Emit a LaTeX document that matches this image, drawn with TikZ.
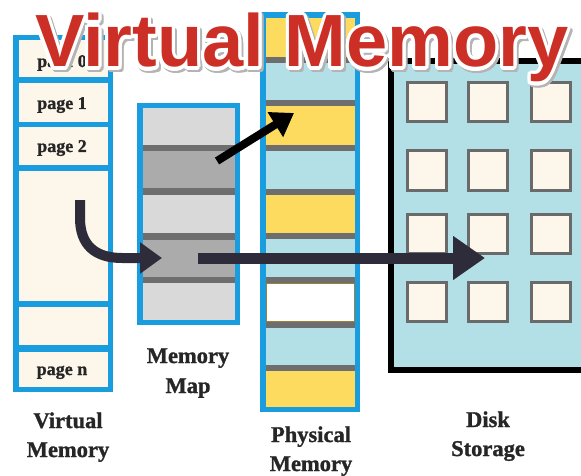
\documentclass[tikz,border=0pt]{standalone}
\usepackage{fontspec}
\usetikzlibrary{arrows.meta,calc}

\newfontfamily\titlefont{Liberation Sans}[UprightFont={* Bold}]
\newfontfamily\lblfont{Liberation Serif}[UprightFont={* Bold}, FakeBold=1.2]

\definecolor{frameblue}{HTML}{1A9DDE}
\definecolor{cellcream}{HTML}{FDF6EA}
\definecolor{skyblue}{HTML}{B3DFE6}
\definecolor{sunyellow}{HTML}{FCDB5E}
\definecolor{stripegray}{HTML}{6E6E6E}
\definecolor{palegray}{HTML}{D9D9D9}
\definecolor{midgray}{HTML}{ABABAB}
\definecolor{arrowdark}{HTML}{2E2C3A}
\definecolor{titlered}{HTML}{CC2F26}
\definecolor{squareedge}{HTML}{6A6A6A}
\definecolor{shadowgray}{HTML}{B4B4B4}

% rectangle node given by its corners: style, name, x1, y1, x2, y2
\newcommand\rectnode[6]{%
  \node[#1, minimum width={#5-#3}, minimum height={#6-#4}] (#2)
    at ({(#3+#5)/2},{(#4+#6)/2}) {};}

\tikzset{
  solid fill/.style={fill=#1, draw=none, inner sep=0, outer sep=0},
  disk square/.style={fill=cellcream, draw=squareedge, line width=3,
    inner sep=0, outer sep=0, minimum size=39},
  page label/.style={anchor=base, inner sep=0,
    font=\lblfont\fontsize{18}{18}\selectfont, text=black!85},
  caption/.style={anchor=base, inner sep=0,
    font=\lblfont\fontsize{22.5}{22.5}\selectfont, text=black!85},
  title text/.style={anchor=base west, inner sep=0,
    font=\titlefont\fontsize{74}{74}\selectfont},
  fat arrow/.style={draw=arrowdark, line width=10,
    -{Triangle[length=22, width=30]}},
  long arrow/.style={draw=arrowdark, line width=11,
    -{Triangle[length=32, width=42]}},
  map arrow/.style={draw=black, line width=8,
    -{Triangle[length=22, width=28]}},
}

\begin{document}
\begin{tikzpicture}[x=1pt, y=-1pt]
\useasboundingbox (0,0) rectangle (581,476);
\clip (0,0) rectangle (581,476);

% ---------------- virtual memory column ----------------
\rectnode{solid fill=frameblue}{vmFrame}{13}{35}{113}{392}
\rectnode{solid fill=cellcream}{vm0}{19}{40}{108}{77}
\rectnode{solid fill=cellcream}{vm1}{19}{83}{108}{122}
\rectnode{solid fill=cellcream}{vm2}{19}{127}{108}{165}
\rectnode{solid fill=cellcream}{vm3}{19}{171}{108}{301}
\rectnode{solid fill=cellcream}{vm4}{19}{307}{108}{345}
\rectnode{solid fill=cellcream}{vm5}{19}{352}{108}{387}
\node[page label] (p0) at (62,67) {page 0};
\node[page label] (p1) at (62,109) {page 1};
\node[page label] (p2) at (62,152) {page 2};
\node[page label] (pn) at (62,375) {page n};

% ---------------- memory map column ----------------
\rectnode{solid fill=frameblue}{mmFrame}{137}{103}{240}{325}
\rectnode{solid fill=stripegray}{mmInner}{143}{108}{235}{320}
\rectnode{solid fill=palegray}{mm1}{143}{108}{235}{145}
\rectnode{solid fill=midgray}{mm2}{143}{151}{235}{188}
\rectnode{solid fill=palegray}{mm3}{143}{195}{235}{233}
\rectnode{solid fill=midgray}{mm4}{143}{240}{235}{277}
\rectnode{solid fill=palegray}{mm5}{143}{283}{235}{320}

% ---------------- physical memory column ----------------
\rectnode{solid fill=frameblue}{pmFrame}{260}{12}{360}{412}
\rectnode{solid fill=stripegray}{pmInner}{266}{18}{355}{407}
\rectnode{solid fill=sunyellow}{pm1}{266}{18}{355}{57}
\rectnode{solid fill=skyblue}{pm2}{266}{63}{355}{100}
\rectnode{solid fill=sunyellow}{pm3}{266}{106}{355}{145}
\rectnode{solid fill=skyblue}{pm4}{266}{151}{355}{189}
\rectnode{solid fill=sunyellow}{pm5}{266}{195}{355}{233}
\rectnode{solid fill=skyblue}{pm6}{266}{239}{355}{277}
\rectnode{solid fill=white, draw=sunyellow!60!black, line width=0.8}{pm7}{266.5}{283.5}{354.5}{321.5}
\rectnode{solid fill=skyblue}{pm8}{266}{328}{355}{365}
\rectnode{solid fill=sunyellow}{pm9}{266}{371}{355}{407}

% ---------------- disk storage ----------------
\rectnode{solid fill=skyblue, draw=black, line width=6}{disk}{391}{61.5}{660}{370}
\foreach \c/\x in {1/427, 2/487.5, 3/551}{
  \foreach \r/\y in {1/102.5, 2/170.5, 3/233.5, 4/302}{
    \node[disk square] (sq\c\r) at (\x,\y) {};
  }
}

% ---------------- captions ----------------
\node[caption] (vmCapA) at (68,428) {Virtual};
\node[caption] (vmCapB) at (68,457) {Memory};
\node[caption] (mmCapA) at (188,363) {Memory};
\node[caption] (mmCapB) at (188,393) {Map};
\node[caption] (pmCapA) at (311,442) {Physical};
\node[caption] (pmCapB) at (311,471) {Memory};
\node[caption] (dkCapA) at (488,427) {Disk};
\node[caption] (dkCapB) at (488,456) {Storage};

% ---------------- arrows ----------------
\coordinate (curveStart) at (80,200);
\coordinate (curveEnd) at (162,258);
\draw[fat arrow] (curveStart) -- (80,218)
  .. controls (80,245) and (95,258) .. (122,258) -- (curveEnd);

\coordinate (diskStart) at (198,258);
\coordinate (diskEnd) at (485,258);
\draw[long arrow] (diskStart) -- (diskEnd);

\coordinate (mapStart) at (217,161);
\coordinate (mapEnd) at (294,113);
\draw[map arrow] (mapStart) -- (mapEnd);

% ---------------- title with drop shadow and white halo ----------------
\coordinate (titlePos) at (35,67);
\foreach \a in {0,20,...,340}{
  \node[title text, text=shadowgray] (shadow\a) at ($(titlePos)+(2,2.5)+(\a:3.2)$) {Virtual Memory};
}
\foreach \a in {0,15,...,345}{
  \node[title text, text=white] (halo\a) at ($(titlePos)+(\a:3.2)$) {Virtual Memory};
}
\node[title text, text=titlered] (title) at (titlePos) {Virtual Memory};
\end{tikzpicture}
\end{document}
